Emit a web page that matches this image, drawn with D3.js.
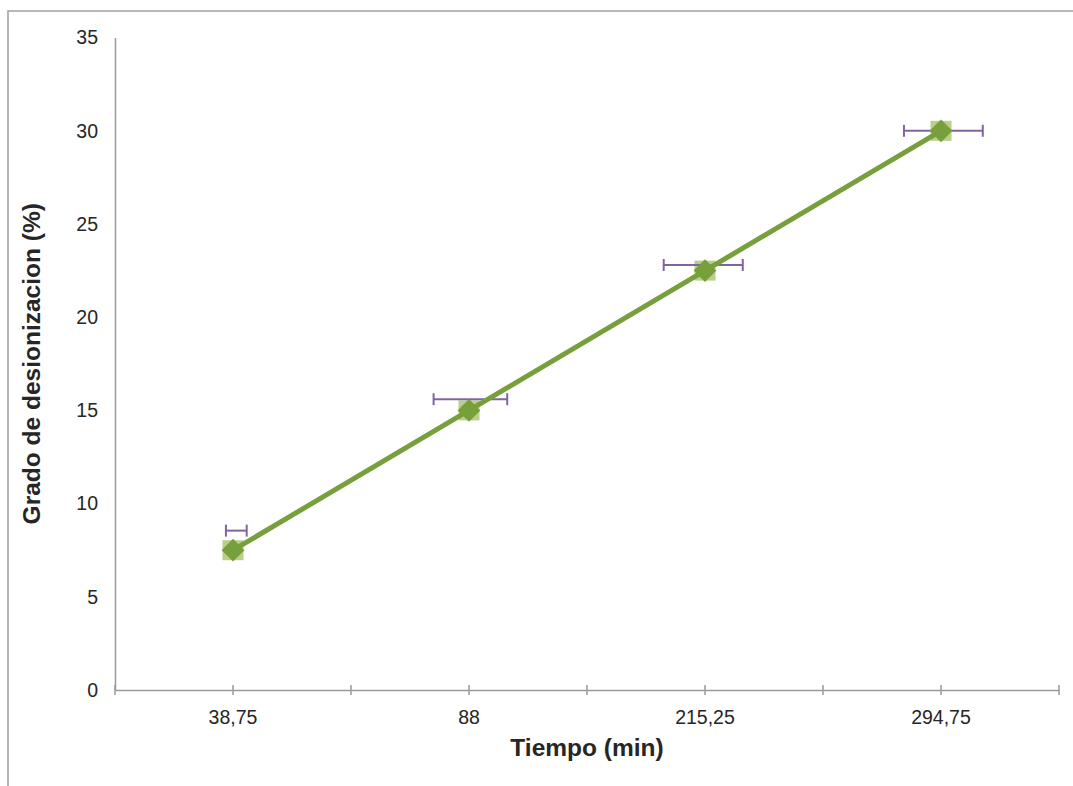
<!DOCTYPE html>
<html>
<head>
<meta charset="utf-8">
<script src="https://cdn.jsdelivr.net/npm/d3@7"></script>
<style>
  html, body { margin: 0; padding: 0; background: #ffffff; }
  svg { display: block; }
</style>
</head>
<body>
<svg id="chart" width="1073" height="786"></svg>
<script>
// Categories on the time axis (minutes)
const categories = ["38,75", "88", "215,25", "294,75"];
// Degree of deionization (%)
const values = [7.5, 15, 22.5, 30];
// Horizontal error bars: vertical position and extent in category units
const errY = [8.55, 15.6, 22.8, 30.0];
const errMinus = [0.03, 0.15, 0.175, 0.157];
const errPlus = [0.058, 0.162, 0.16, 0.177];
// Y tick values
const yTicks = [0, 5, 10, 15, 20, 25, 30, 35];

const svg = d3.select("#chart");
const W = 1073, H = 786;
const plot = { left: 115, right: 1059, top: 37.6, bottom: 690 };

svg.append("rect").attr("width", W).attr("height", H).attr("fill", "#ffffff");

// chart frame
svg.append("rect")
  .attr("x", 8).attr("y", 11)
  .attr("width", 1100).attr("height", 900)
  .attr("fill", "none").attr("stroke", "#a0a0a0").attr("stroke-width", 1.5);

const x = d3.scaleBand().domain(categories).range([plot.left, plot.right]).padding(0);
const y = d3.scaleLinear().domain([0, 35]).range([plot.bottom, plot.top]);
const cx = c => x(c) + x.bandwidth() / 2;
const bw = x.bandwidth();

const font = "'Liberation Sans', Arial, sans-serif";

// y axis
const yAxis = d3.axisLeft(y).tickValues(yTicks).tickSize(0).tickPadding(17).tickFormat(d3.format("d"));
const gy = svg.append("g").attr("transform", `translate(${plot.left},0)`).call(yAxis);
gy.select(".domain").attr("stroke", "#9a9a9a").attr("stroke-width", 1.5);
gy.selectAll(".tick text").attr("font-family", font).attr("font-size", 19.5).attr("fill", "#262626");

// x axis: labels at category centers, ticks at centers and boundaries
const xAxis = d3.axisBottom(x).tickSize(0).tickPadding(20);
const gx = svg.append("g").attr("transform", `translate(0,${plot.bottom})`).call(xAxis);
gx.selectAll(".tick").attr("transform", d => `translate(${cx(d)},0)`);
gx.select(".domain").attr("stroke", "#9a9a9a").attr("stroke-width", 1.5);
gx.selectAll(".tick text").attr("font-family", font).attr("font-size", 19.5).attr("fill", "#262626");

const tickPos = [];
categories.forEach(c => { tickPos.push(x(c)); tickPos.push(cx(c)); });
tickPos.push(plot.right);
gx.selectAll("line.tk").data(tickPos).enter().append("line")
  .attr("class", "tk")
  .attr("x1", d => d).attr("x2", d => d)
  .attr("y1", -5).attr("y2", 5)
  .attr("stroke", "#9a9a9a").attr("stroke-width", 1.5);

// axis titles
svg.append("text")
  .attr("x", (plot.left + plot.right) / 2).attr("y", 756)
  .attr("text-anchor", "middle")
  .attr("font-family", font).attr("font-weight", "bold").attr("font-size", 24.5)
  .attr("fill", "#262626")
  .text("Tiempo (min)");

svg.append("text")
  .attr("transform", `translate(40,${(plot.top + plot.bottom) / 2}) rotate(-90)`)
  .attr("text-anchor", "middle")
  .attr("font-family", font).attr("font-weight", "bold").attr("font-size", 24.5)
  .attr("fill", "#262626")
  .text("Grado de desionizacion (%)");

const pts = categories.map((c, i) => ({ c, v: values[i], ey: errY[i], em: errMinus[i], ep: errPlus[i] }));

// square markers (light green)
svg.append("g").selectAll("rect").data(pts).enter().append("rect")
  .attr("x", d => cx(d.c) - 10.5).attr("y", d => y(d.v) - 10)
  .attr("width", 21).attr("height", 20)
  .attr("fill", "#9bbb59").attr("fill-opacity", 0.7);

// horizontal error bars
const eb = svg.append("g").attr("stroke", "#8064a2").attr("stroke-width", 2);
pts.forEach(d => {
  const x0 = cx(d.c) - d.em * bw, x1 = cx(d.c) + d.ep * bw, yy = y(d.ey);
  eb.append("line").attr("x1", x0).attr("x2", x1).attr("y1", yy).attr("y2", yy);
  eb.append("line").attr("x1", x0).attr("x2", x0).attr("y1", yy - 6).attr("y2", yy + 6);
  eb.append("line").attr("x1", x1).attr("x2", x1).attr("y1", yy - 6).attr("y2", yy + 6);
});

// line series
const line = d3.line().x(d => cx(d.c)).y(d => y(d.v));
svg.append("path").datum(pts)
  .attr("d", line)
  .attr("fill", "none").attr("stroke", "#77a03c").attr("stroke-width", 5)
  .attr("stroke-linejoin", "round");

// diamond markers
const diamond = d3.symbol().type(d3.symbolDiamond2).size(330);
svg.append("g").selectAll("path").data(pts).enter().append("path")
  .attr("transform", d => `translate(${cx(d.c)},${y(d.v)})`)
  .attr("d", diamond)
  .attr("fill", "#77a03c");
</script>
</body>
</html>
